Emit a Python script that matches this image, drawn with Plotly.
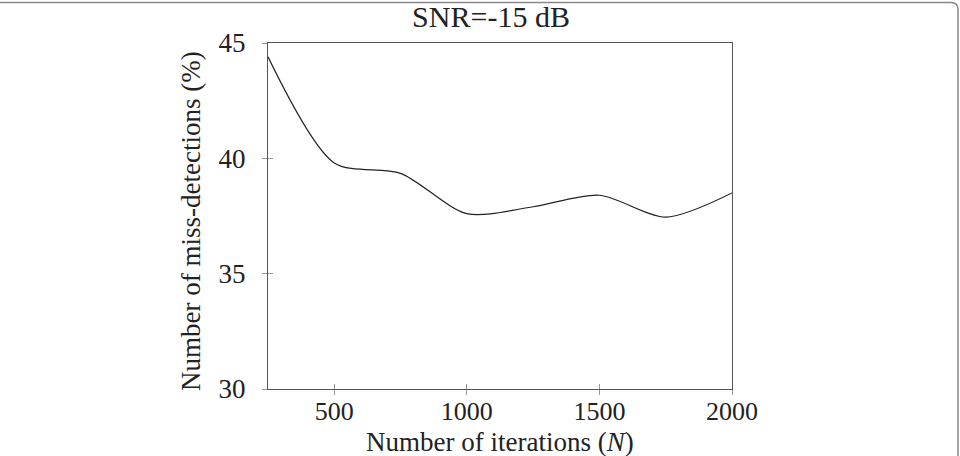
import plotly.graph_objects as go

iterations = [250, 500, 750, 1000, 1250, 1500, 1750, 2000]
miss_detections = [44.4, 39.8, 39.35, 37.6, 37.9, 38.4, 37.45, 38.5]
x_ticks = [500, 1000, 1500, 2000]
y_ticks = [30, 35, 40, 45]

W, H = 960, 456
L, R, T, B = 268, 732, 43, 389

def px(x):
    return (x - L) / (R - L)

def py(y):
    return (B - y) / (B - T)

font = "Liberation Serif"
ink = "#222222"

fig = go.Figure()
fig.add_trace(go.Scatter(
    x=iterations, y=miss_detections, mode="lines",
    line=dict(color=ink, width=1.2, shape="spline", smoothing=0.8),
    showlegend=False, hoverinfo="skip"))
# invisible trace for the inside-tick overlay axes
fig.add_trace(go.Scatter(x=[250, 2000], y=[30, 45], xaxis="x2", yaxis="y2",
                         mode="markers", marker=dict(opacity=0), showlegend=False,
                         hoverinfo="skip"))

axis_common = dict(showgrid=False, zeroline=False, linecolor="#555555", linewidth=1.2,
                   ticks="outside", ticklen=5, tickcolor="#999999", tickwidth=1,
                   automargin=False)

fig.update_layout(
    width=W, height=H,
    font=dict(family=font, color=ink),
    margin=dict(l=L, r=W - R, t=T, b=H - B, autoexpand=False),
    plot_bgcolor="white", paper_bgcolor="white",
    title=dict(text="SNR=-15 dB", x=491 / W, y=1 - 16 / H, xanchor="center", yanchor="middle",
               automargin=False, font=dict(family=font, size=30, color=ink)),
    xaxis=dict(range=[250, 2000], tickvals=x_ticks, mirror=True, ticklabelstandoff=-6,
               tickfont=dict(family=font, size=26, color=ink), **axis_common),
    yaxis=dict(range=[30, 45], tickvals=y_ticks, mirror=True, ticklabelstandoff=11,
               tickfont=dict(family=font, size=27, color=ink), **axis_common),
    xaxis2=dict(range=[250, 2000], tickvals=x_ticks, overlaying="x", side="bottom",
                showgrid=False, zeroline=False, showline=False, showticklabels=False,
                ticks="inside", ticklen=5, tickcolor="#999999", tickwidth=1),
    yaxis2=dict(range=[30, 45], tickvals=y_ticks, overlaying="y", side="left",
                showgrid=False, zeroline=False, showline=False, showticklabels=False,
                ticks="inside", ticklen=5, tickcolor="#999999", tickwidth=1),
)

# axis titles
fig.add_annotation(text="Number of iterations (<i>N</i>)", xref="paper", yref="paper",
                   x=px(500), y=py(442), xanchor="center", yanchor="middle",
                   showarrow=False, font=dict(family=font, size=27, color=ink))
fig.add_annotation(text="Number of miss-detections (%)", xref="paper", yref="paper",
                   x=px(191), y=py(221), xanchor="center", yanchor="middle", textangle=-90,
                   showarrow=False, font=dict(family=font, size=27, color=ink))

# rounded page border (top-right corner visible)
r = 7
x0, x1, yt, yb = -20, 958, 2.5, 480
path = (f"M {px(x0)},{py(yt)} L {px(x1 - r)},{py(yt)} "
        f"Q {px(x1)},{py(yt)} {px(x1)},{py(yt + r)} L {px(x1)},{py(yb)}")
fig.add_shape(type="path", path=path, xref="paper", yref="paper",
              line=dict(color="#888888", width=1.5), layer="above")

fig.write_html("out.html")
